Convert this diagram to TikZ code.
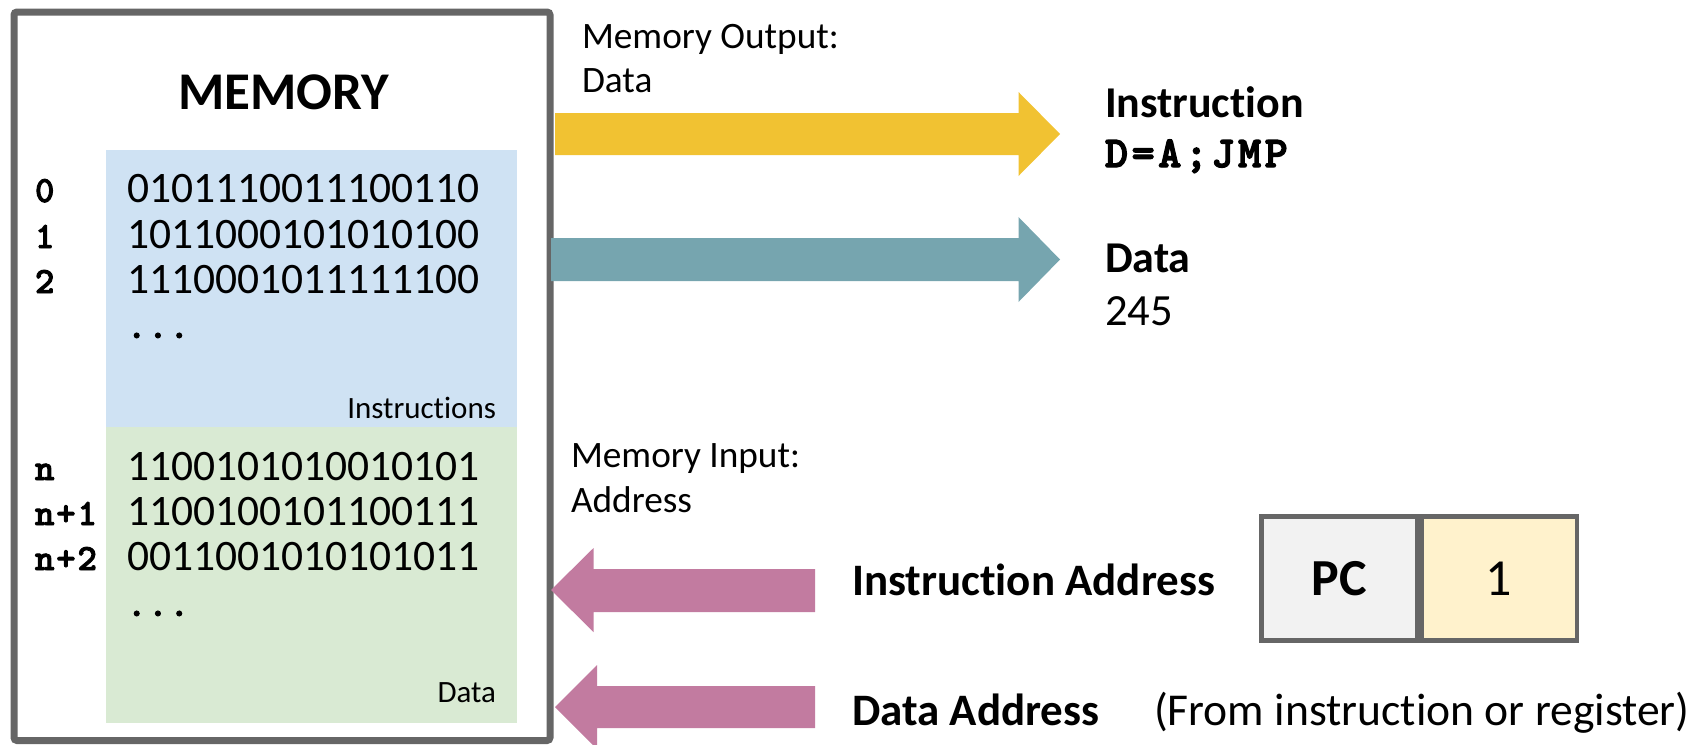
\documentclass[tikz,border=0pt]{standalone}
\usepackage{fontspec}
\setmainfont{Carlito}[Ligatures=NoCommon]
\newfontfamily\courlbl{lmmonolt10-bold.otf}[LetterSpace=5, FakeBold=2.5]
\newfontfamily\courcode{lmmonolt10-bold.otf}[LetterSpace=8, FakeBold=3]
\definecolor{memborder}{HTML}{666666}
\definecolor{instrblue}{HTML}{CFE2F3}
\definecolor{datagreen}{HTML}{D9EAD3}
\definecolor{arryellow}{HTML}{F1C232}
\definecolor{arrteal}{HTML}{76A5AF}
\definecolor{arrpink}{HTML}{C27BA0}
\definecolor{pcgray}{HTML}{F2F2F2}
\definecolor{pcyellow}{HTML}{FFF2CC}
\newcommand\fsz[1]{\fontsize{#1}{#1}\selectfont}
\tikzset{
  txt/.style={inner sep=0pt, outer sep=0pt},
  bin/.style={txt, anchor=base west, font=\fsz{21.75}},
  lbl/.style={txt, anchor=base west, font=\courlbl\fsz{18.5}},
  sect/.style={txt, anchor=base east, font=\fsz{15.5}},
  io/.style={txt, anchor=base west, font=\fsz{18.65}},
  big/.style={txt, anchor=base west, font=\bfseries\fsz{22}},
  plain/.style={txt, anchor=base west, font=\fsz{22.3}},
  membox/.style={draw=memborder, line width=3.5pt, rounded corners=1.5pt},
  pccell/.style={draw=memborder, line width=2.3pt, minimum width=155.5*0.5pt, minimum height=124*0.5pt, inner sep=0pt, anchor=north west},
}
\begin{document}
\begin{tikzpicture}[x=0.5pt,y=-0.5pt]
\useasboundingbox (0,0) rectangle (1690,744);
\clip (0,0) rectangle (1690,744);
% memory regions
\fill[instrblue] (106,150) rectangle (517,427);
\fill[datagreen] (106,427) rectangle (517,723);
\draw[membox] (14,12) rectangle (550,740.5);
\node[txt, anchor=base, font=\bfseries\fsz{26.5}] (memtitle) at (283.6,109) {MEMORY};
% instruction rows
\node[lbl] (l0) at (35,202) {0};
\node[lbl] (l1) at (35,248) {1};
\node[lbl] (l2) at (35,293) {2};
\node[bin] (b0) at (127,202) {0101110011100110};
\node[bin] (b1) at (127,248) {1011000101010100};
\node[bin] (b2) at (127,293) {1110001011111100};
\node[lbl] (d1) at (127,338) {...};
\node[sect] (instrlbl) at (496,418) {Instructions};
% data rows
\node[lbl] (ln) at (35,480) {n};
\node[lbl] (ln1) at (35,525) {n+1};
\node[lbl] (ln2) at (35,570) {n+2};
\node[bin] (bn) at (127,480) {1100101010010101};
\node[bin] (bn1) at (127,525) {1100100101100111};
\node[bin] (bn2) at (127,570) {0011001010101011};
\node[lbl] (d2) at (127,616) {...};
\node[sect] (datalbl) at (496,702) {Data};
% output side
\node[io] (outlbl1) at (582,48) {Memory Output:};
\node[io] (outlbl2) at (582,92) {Data};
\fill[arryellow] (555,113) -- (1018.5,113) -- (1018.5,92) -- (1060,134) -- (1018.5,176) -- (1018.5,155) -- (555,155) -- cycle;
\fill[arrteal] (551,238) -- (1018.5,238) -- (1018.5,217) -- (1060,259.5) -- (1018.5,302) -- (1018.5,281) -- (551,281) -- cycle;
\node[big] (instr) at (1105,117) {Instruction};
\node[txt, anchor=base west, font=\courcode\fsz{22}] (code) at (1105,167) {D=A;JMP};
\node[big] (dat) at (1105,272) {Data};
\node[plain] (val) at (1105,325) {245};
% input side
\node[io] (inlbl1) at (571,467) {Memory Input:};
\node[io] (inlbl2) at (571,512) {Address};
\fill[arrpink] (815,569) -- (593.5,569) -- (593.5,548) -- (551,590) -- (593.5,632) -- (593.5,612) -- (815,612) -- cycle;
\fill[arrpink] (815,686) -- (597,686) -- (597,665) -- (555,707) -- (597,749) -- (597,728) -- (815,728) -- cycle;
\node[big, font=\bfseries\fsz{22.5}] (iaddr) at (852,595) {Instruction Address};
\node[big, font=\bfseries\fsz{22.5}] (daddr) at (852,725) {Data Address};
\node[plain, font=\fsz{22.8}] (from) at (1154,725) {(From instruction or register)};
% PC register
\node[pccell, fill=pcgray, font=\bfseries\fsz{26}] (pc) at (1259,514) {PC};
\node[pccell, fill=pcyellow, font=\fsz{26}] (pcval) at (pc.north east) {1};
\end{tikzpicture}
\end{document}
